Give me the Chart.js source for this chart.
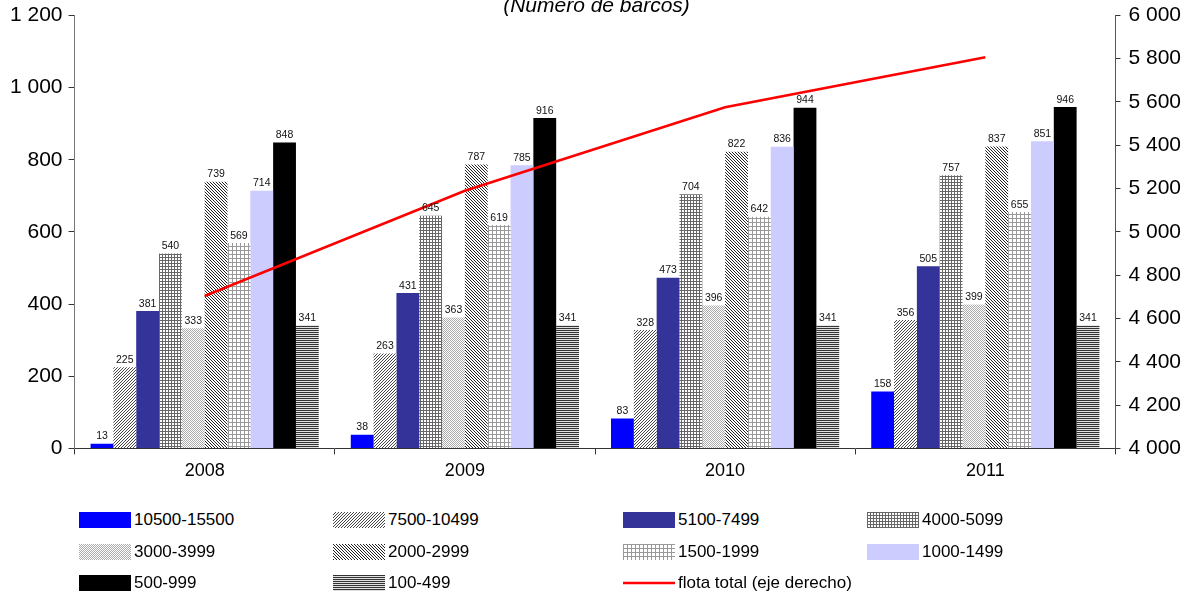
<!DOCTYPE html>
<html>
<head>
<meta charset="utf-8">
<script src="https://cdn.jsdelivr.net/npm/chart.js@4/dist/chart.umd.min.js"></script>
<style>
  body { margin: 0; background: #fff; font-family: 'Liberation Sans', Arial, sans-serif; }
  #wrap { position: relative; width: 1185px; height: 596px; overflow: hidden; }
  #box { position: absolute; left: 0; top: -10px; width: 1185px; height: 498px; }
  #legend { position: absolute; left: 79px; top: 504px; display: grid;
            grid-template-columns: 254px 290px 244px 250px; grid-auto-rows: 31.7px;
            font-size: 17px; color: #000; }
  .item { display: flex; align-items: center; white-space: nowrap; }
  .item canvas { margin-right: 3px; }
</style>
</head>
<body>
<div id="wrap">
  <div id="box"><canvas id="chart"></canvas></div>
  <div id="legend"></div>
</div>
<script>
// data
const years = ['2008', '2009', '2010', '2011'];
const sizeClasses = ['10500-15500', '7500-10499', '5100-7499', '4000-5099', '3000-3999',
                     '2000-2999', '1500-1999', '1000-1499', '500-999', '100-499'];
const b10500 = [13, 38, 83, 158];
const b7500 = [225, 263, 328, 356];
const b5100 = [381, 431, 473, 505];
const b4000 = [540, 645, 704, 757];
const b3000 = [333, 363, 396, 399];
const b2000 = [739, 787, 822, 837];
const b1500 = [569, 619, 642, 655];
const b1000 = [714, 785, 836, 851];
const b500 = [848, 916, 944, 946];
const b100 = [341, 341, 341, 341];
const flotaTotal = [4704, 5190, 5576, 5807];
const lineLabel = 'flota total (eje derecho)';
const titleText = '(Número de barcos)';

// fills: solid colours or pattern names
const fills = ['#0000ff', 'up', '#333399', 'smallgrid', 'dots', 'down', 'grid', '#ccccff', '#000000', 'horiz'];

function pattern(ctx, kind) {
  const t = document.createElement('canvas');
  let w = 3, h = 3;
  if (kind === 'dots') { w = 2; h = 2; }
  if (kind === 'grid') { w = 4; h = 4; }
  if (kind === 'horiz') { w = 4; h = 2; }
  t.width = w; t.height = h;
  const g = t.getContext('2d');
  g.fillStyle = '#fff';
  g.fillRect(0, 0, w, h);
  const px = (x, y, c) => { g.fillStyle = c; g.fillRect(x, y, 1, 1); };
  if (kind === 'up') {
    for (let i = 0; i < 3; i++) px(i, 2 - i, '#444');
  } else if (kind === 'smallgrid') {
    for (let i = 0; i < 3; i++) { px(i, 0, '#666'); px(0, i, '#666'); }
  } else if (kind === 'dots') {
    px(0, 0, '#aaa'); px(1, 1, '#aaa');
  } else if (kind === 'down') {
    for (let i = 0; i < 3; i++) px(i, i, '#222');
  } else if (kind === 'grid') {
    for (let i = 0; i < 4; i++) { px(i, 0, '#999'); px(0, i, '#999'); }
  } else if (kind === 'horiz') {
    for (let i = 0; i < 4; i++) { px(i, 0, '#333'); px(i, 1, '#e0e0e0'); }
  }
  return ctx.createPattern(t, 'repeat');
}

function fillFor(ctx, f) {
  return f.startsWith('#') ? f : pattern(ctx, f);
}

const fmt = v => String(v).replace(/\B(?=(\d{3})+(?!\d))/g, ' ');

const canvas = document.getElementById('chart');
const ctx = canvas.getContext('2d');
const series = [b10500, b7500, b5100, b4000, b3000, b2000, b1500, b1000, b500, b100];

const datasets = series.map((d, i) => ({
  label: sizeClasses[i],
  data: d,
  backgroundColor: fillFor(ctx, fills[i]),
  borderWidth: 0,
  yAxisID: 'y'
}));
datasets.push({
  type: 'line',
  label: lineLabel,
  data: flotaTotal,
  yAxisID: 'y1',
  borderColor: '#ff0000',
  borderWidth: 2.5,
  pointRadius: 0,
  tension: 0,
  order: -1
});

const barLabels = {
  id: 'barLabels',
  afterDatasetsDraw(chart) {
    const c = chart.ctx;
    c.save();
    c.font = "10.5px 'Liberation Sans', Arial, sans-serif";
    c.fillStyle = '#111';
    c.textAlign = 'center';
    c.textBaseline = 'bottom';
    chart.data.datasets.forEach((ds, i) => {
      if (ds.type === 'line') return;
      chart.getDatasetMeta(i).data.forEach((el, j) => {
        c.fillText(ds.data[j], el.x, el.y - 2);
      });
    });
    c.restore();
  }
};

Chart.defaults.font.family = "'Liberation Sans', Arial, sans-serif";
Chart.defaults.color = '#000';

const chart = new Chart(canvas, {
  type: 'bar',
  data: { labels: years, datasets: datasets },
  options: {
    responsive: true,
    maintainAspectRatio: false,
    animation: false,
    layout: { padding: { left: 4, right: -4, top: 0, bottom: 0 } },
    datasets: { bar: { categoryPercentage: 0.877, barPercentage: 1 } },
    plugins: {
      legend: { display: false },
      tooltip: { enabled: false },
      title: {
        display: true,
        text: titleText,
        font: { size: 21, style: 'italic', weight: 'normal', lineHeight: 0.9 },
        color: '#000',
        padding: { top: 6.5, bottom: 0 }
      }
    },
    scales: {
      x: {
        grid: { drawOnChartArea: false, tickLength: 6, color: '#333', offset: true },
        border: { color: '#333' },
        ticks: { font: { size: 18 }, color: '#000', padding: 6 }
      },
      y: {
        position: 'left',
        min: 0, max: 1200,
        ticks: { stepSize: 200, font: { size: 21 }, color: '#000', padding: 6, callback: fmt },
        grid: { drawOnChartArea: false, tickLength: 6, color: '#333' },
        border: { color: '#777' }
      },
      y1: {
        position: 'right',
        min: 4000, max: 6000,
        ticks: { stepSize: 200, font: { size: 21 }, color: '#000', padding: 8, callback: fmt },
        grid: { drawOnChartArea: false, tickLength: 5, color: '#333' },
        border: { color: '#555' }
      }
    }
  },
  plugins: [barLabels]
});

// legend in a 4-column grid
const legend = document.getElementById('legend');
chart.data.datasets.forEach((ds, i) => {
  const item = document.createElement('div');
  item.className = 'item';
  const sw = document.createElement('canvas');
  sw.width = 52; sw.height = 16;
  const s = sw.getContext('2d');
  if (ds.type === 'line') {
    s.strokeStyle = ds.borderColor;
    s.lineWidth = 2.5;
    s.beginPath(); s.moveTo(0, 8); s.lineTo(52, 8); s.stroke();
  } else {
    s.fillStyle = fillFor(s, fills[i]);
    s.fillRect(0, 0, 52, 16);
  }
  const txt = document.createElement('span');
  txt.textContent = ds.label;
  item.appendChild(sw);
  item.appendChild(txt);
  legend.appendChild(item);
});
</script>
</body>
</html>
